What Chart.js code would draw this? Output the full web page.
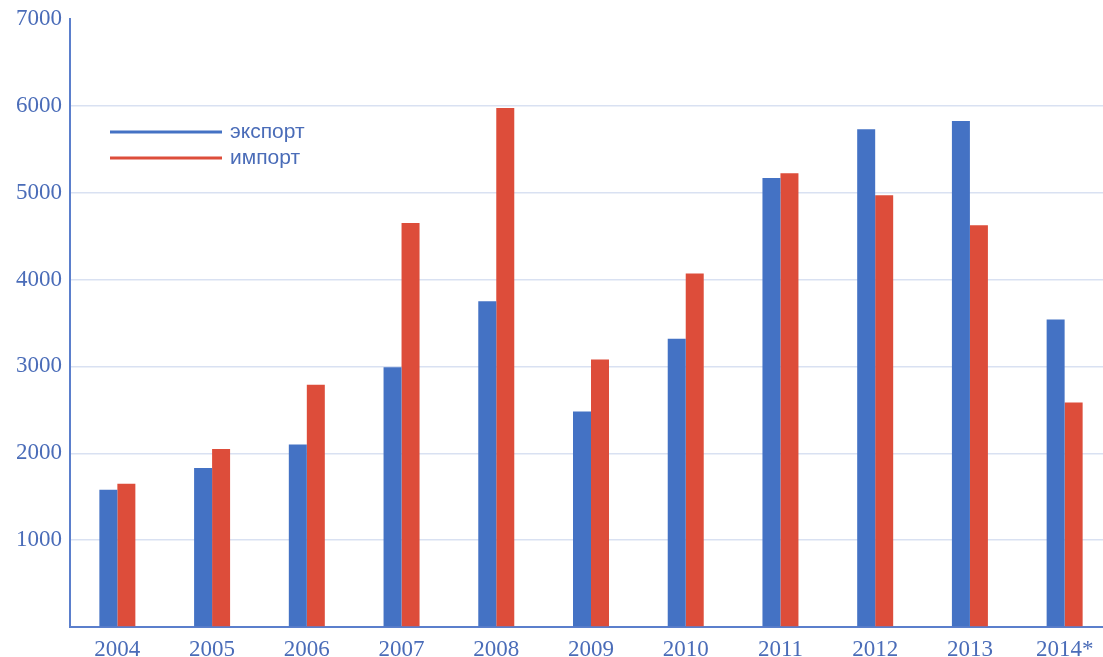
<!DOCTYPE html>
<html>
<head>
<meta charset="utf-8">
<script src="https://cdn.jsdelivr.net/npm/chart.js@4"></script>
<style>
html,body{margin:0;padding:0;background:#fff;overflow:hidden;}
#wrap{position:relative;width:1103px;height:657px;overflow:hidden;}
</style>
</head>
<body>
<div id="wrap"><canvas id="c" width="1115" height="657"></canvas></div>
<script>
const years = ['2004','2005','2006','2007','2008','2009','2010','2011','2012','2013','2014*'];
const exportValues = [1580, 1830, 2100, 2990, 3750, 2480, 3320, 5170, 5730, 5825, 3540];
const importValues = [1650, 2050, 2790, 4650, 5975, 3080, 4070, 5225, 4970, 4625, 2585];
const seriesNames = ['экспорт', 'импорт'];
const yTicks = [0, 1000, 2000, 3000, 4000, 5000, 6000, 7000];

const blue = '#4472C4';
const red = '#DD4D3A';
const textColor = '#4A6CB8';
const serif = '"Liberation Serif", "DejaVu Serif", serif';

const legendPlugin = {
  id: 'inlineLegend',
  afterDatasetsDraw(chart) {
    const ctx = chart.ctx;
    const rows = [{y: 132}, {y: 158}];
    chart.data.datasets.forEach((ds, i) => {
      const y = rows[i].y;
      ctx.save();
      ctx.strokeStyle = ds.backgroundColor;
      ctx.lineWidth = 3;
      ctx.beginPath();
      ctx.moveTo(110, y);
      ctx.lineTo(222, y);
      ctx.stroke();
      ctx.fillStyle = textColor;
      ctx.font = '21px "Liberation Sans", Arial, sans-serif';
      ctx.textBaseline = 'middle';
      ctx.textAlign = 'left';
      ctx.fillText(ds.label, 230, y);
      ctx.restore();
    });
  }
};

new Chart(document.getElementById('c'), {
  type: 'bar',
  data: {
    labels: years,
    datasets: [
      {label: seriesNames[0], data: exportValues, backgroundColor: blue},
      {label: seriesNames[1], data: importValues, backgroundColor: red}
    ]
  },
  options: {
    responsive: false,
    animation: false,
    layout: {padding: {top: 19, right: 3, left: 0, bottom: 0}},
    plugins: {legend: {display: false}, tooltip: {enabled: false}},
    datasets: {bar: {categoryPercentage: 0.38, barPercentage: 1.0}},
    scales: {
      x: {
        grid: {display: false, drawTicks: false},
        border: {display: true, color: '#5B7FCC', width: 2},
        ticks: {color: textColor, font: {family: serif, size: 23}, padding: 9, maxRotation: 0},
        afterFit(s) { s.height = 30; }
      },
      y: {
        min: 0, max: 7000,
        afterBuildTicks(s) { s.ticks = yTicks.map(v => ({value: v})); },
        grid: {
          drawTicks: false,
          color: c => (c.tick && (c.tick.value === 0 || c.tick.value === 7000)) ? 'rgba(0,0,0,0)' : '#D9E1F2',
          lineWidth: 1.5
        },
        border: {display: true, color: '#5B7FCC', width: 2},
        ticks: {
          color: textColor,
          font: {family: serif, size: 23},
          padding: 8,
          callback: v => v === 0 ? '' : String(v)
        },
        afterFit(s) { s.width = 70; s.paddingTop = 0; s.paddingBottom = 0; }
      }
    }
  },
  plugins: [legendPlugin]
});
</script>
</body>
</html>
